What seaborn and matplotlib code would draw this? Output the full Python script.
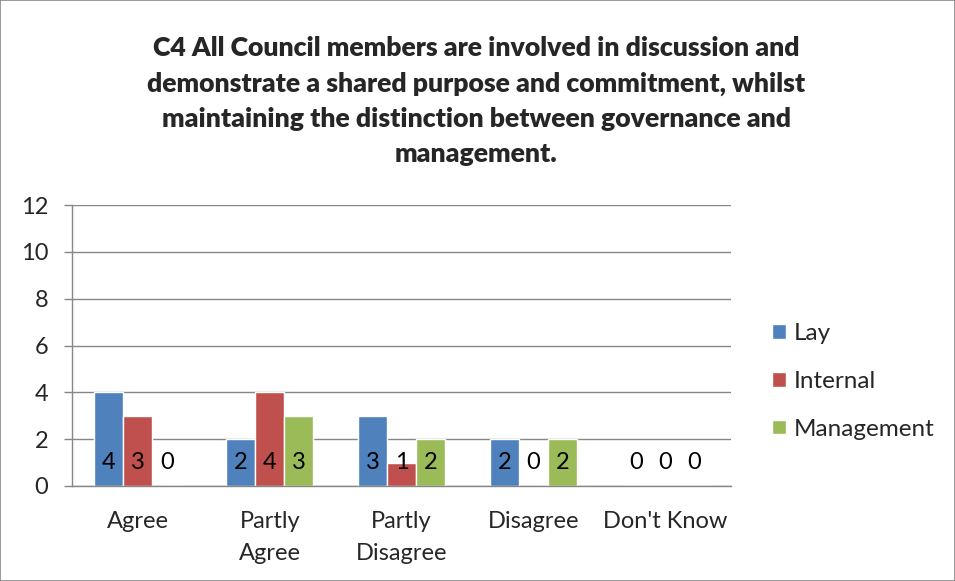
import numpy as np
import pandas as pd
import matplotlib
matplotlib.use("Agg")
import matplotlib.pyplot as plt
import seaborn as sns
from matplotlib.patches import Rectangle

categories = ["Agree", "Partly\nAgree", "Partly\nDisagree", "Disagree", "Don't Know"]
series = ["Lay", "Internal", "Management"]
lay = [4, 2, 3, 2, 0]
internal = [3, 4, 1, 0, 0]
management = [0, 3, 2, 2, 0]
colors = ["#4F81BD", "#C0504D", "#9BBB59"]
title = ("C4 All Council members are involved in discussion and\n"
         "demonstrate a shared purpose and commitment, whilst\n"
         "maintaining the distinction between governance and\n"
         "management.")

sns.set_theme(style="white")
plt.rcParams['font.family'] = ['Lato', 'DejaVu Sans']

df = pd.DataFrame({
    "category": categories * 3,
    "series": sum([[s] * len(categories) for s in series], []),
    "value": lay + internal + management,
})

fig = plt.figure(figsize=(9.55, 5.81), dpi=100)
ax = fig.add_axes([72 / 955, 1 - 486 / 581, (731 - 72) / 955, (486 - 205) / 581])

sns.barplot(data=df, x="category", y="value", hue="series", palette=colors,
            width=0.66, ax=ax, saturation=1, legend=True)

# data labels inside base
for cont in ax.containers:
    for bar in cont:
        h = bar.get_height()
        ax.text(bar.get_x() + bar.get_width() / 2, 1.0, f"{int(round(h))}",
                ha="center", va="center", fontsize=17, color="black")

ax.set_ylim(0, 12)
ax.set_yticks(np.arange(0, 13, 2))
ax.set_xlim(-0.5, len(categories) - 0.5)
ax.yaxis.grid(True, color="#868686", linewidth=1)
ax.set_axisbelow(True)
ax.set_xlabel("")
ax.set_ylabel("")
for s in ["top", "right"]:
    ax.spines[s].set_visible(False)
for s in ["left", "bottom"]:
    ax.spines[s].set_color("#868686")
    ax.spines[s].set_linewidth(1)

ax.set_xticks(range(len(categories)))
ax.set_xticklabels(categories, fontsize=17, linespacing=1.65)
ax.set_xticks(np.arange(-0.5, len(categories), 1), minor=True)
ax.tick_params(axis="x", which="major", length=0, pad=18)
ax.tick_params(axis="x", which="minor", length=6, width=1, color="#868686", direction="out")
ax.tick_params(axis="y", length=6, width=1, color="#868686", direction="out", labelsize=17, pad=11)
ax.tick_params(axis="y", which="major", left=True)

leg = ax.legend(loc="center left", bbox_to_anchor=(1.048, 0.372), frameon=False,
                fontsize=17.5, handlelength=0.55, handleheight=0.55, handletextpad=0.35,
                labelspacing=1.1, borderaxespad=0)

fig.text(0.4985, 1 - 101 / 581, title, ha="center", va="center",
         fontsize=19.2, fontweight="heavy", family=['Lato', 'DejaVu Sans'], linespacing=1.55)

fig.patches.append(Rectangle((0.0005, 0.0005), 0.999, 0.999, transform=fig.transFigure,
                             fill=False, edgecolor="#868686", linewidth=1.2))

fig.savefig("out.png", dpi=100)
